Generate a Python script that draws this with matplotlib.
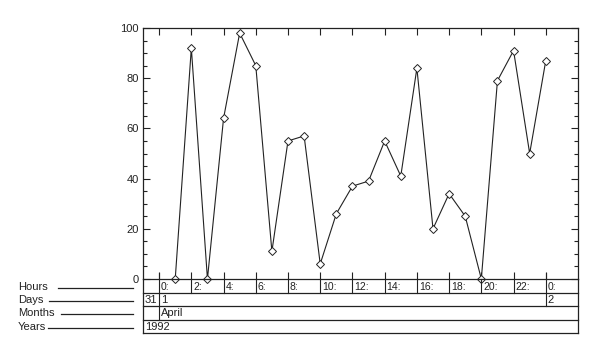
import numpy as np
import matplotlib.pyplot as plt
from matplotlib.ticker import MultipleLocator

plt.rcParams['font.family'] = ['Liberation Sans', 'DejaVu Sans']

# hourly values, 1 April 1992 01:00 .. 2 April 00:00
hours = list(range(1, 25))
values = [0, 92, 0, 64, 98, 85, 11, 55, 57, 6, 26, 37,
          39, 55, 41, 84, 20, 34, 25, 0, 79, 91, 50, 87]

hour_ticks = list(range(0, 25, 2))
hour_labels = ['%d:' % (h % 24) for h in hour_ticks]
day_labels = [(-1, '31'), (0, '1'), (24, '2')]
month_labels = [(0, 'April')]
year_labels = [(-1, '1992')]
row_names = ['Hours', 'Days', 'Months', 'Years']

W, H = 600, 361
fig = plt.figure(figsize=(W / 100, H / 100), dpi=100)

def px(l, t, r, b):
    return [l / W, 1 - b / H, (r - l) / W, (b - t) / H]

xmin, xmax = -1, 26
ink = '#222222'

ax = fig.add_axes(px(143, 28, 578, 279))
ax.plot(hours, values, color=ink, lw=0.8, marker='D', ms=4,
        mfc='white', mec=ink, mew=0.7, clip_on=False)
ax.set_xlim(xmin, xmax)
ax.set_ylim(0, 100)
ax.set_xticks(hour_ticks)
ax.set_xticklabels([])
ax.yaxis.set_major_locator(MultipleLocator(20))
ax.yaxis.set_minor_locator(MultipleLocator(5))
ax.tick_params(axis='both', which='both', direction='in', top=True, right=True,
               color=ink, width=0.8)
ax.tick_params(axis='both', which='major', length=5)
ax.tick_params(axis='y', which='minor', length=3)
ax.tick_params(axis='y', labelsize=8, pad=3, labelcolor=ink)
for s in ax.spines.values():
    s.set_color(ink)
    s.set_linewidth(0.9)

# time strip below the plot: rows Hours, Days, Months, Years
sx = fig.add_axes(px(143, 279, 578, 333))
sx.set_xlim(xmin, xmax)
sx.set_ylim(0, 4)
sx.axis('off')
for y in [0, 1, 2, 3]:
    sx.plot([xmin, xmax], [y, y], color=ink, lw=0.9, clip_on=False)
sx.plot([xmin, xmin], [0, 4], color=ink, lw=0.9, clip_on=False)
sx.plot([xmax, xmax], [0, 4], color=ink, lw=0.9, clip_on=False)

for h, lab in zip(hour_ticks, hour_labels):
    bottom = 3
    top = 4.0
    if h == 0:
        bottom, top = 1, 4.45
    elif h == 24:
        bottom, top = 2, 4.45
    sx.plot([h, h], [bottom, top], color=ink, lw=0.8, clip_on=False)
    sx.text(h + 0.12, 3.42, lab, fontsize=7.5, ha='left', va='center', color=ink)

for x, lab in day_labels:
    sx.text(x + 0.1, 2.45, lab, fontsize=8, ha='left', va='center', color=ink)
for x, lab in month_labels:
    sx.text(x + 0.1, 1.45, lab, fontsize=8, ha='left', va='center', color=ink)
for x, lab in year_labels:
    sx.text(x + 0.1, 0.45, lab, fontsize=8, ha='left', va='center', color=ink)

# row names with leader lines
label_y = [288, 301, 314, 328]
line_x0 = [58, 49, 61, 48]
for name, y, x0 in zip(row_names, label_y, line_x0):
    fig.text(18 / W, 1 - (y - 1) / H, name, fontsize=8, ha='left', va='center',
             color=ink)
    fig.add_artist(plt.Line2D([x0 / W, 133 / W], [1 - y / H, 1 - y / H],
                              color=ink, lw=0.9))

fig.savefig('out.png', dpi=100)
